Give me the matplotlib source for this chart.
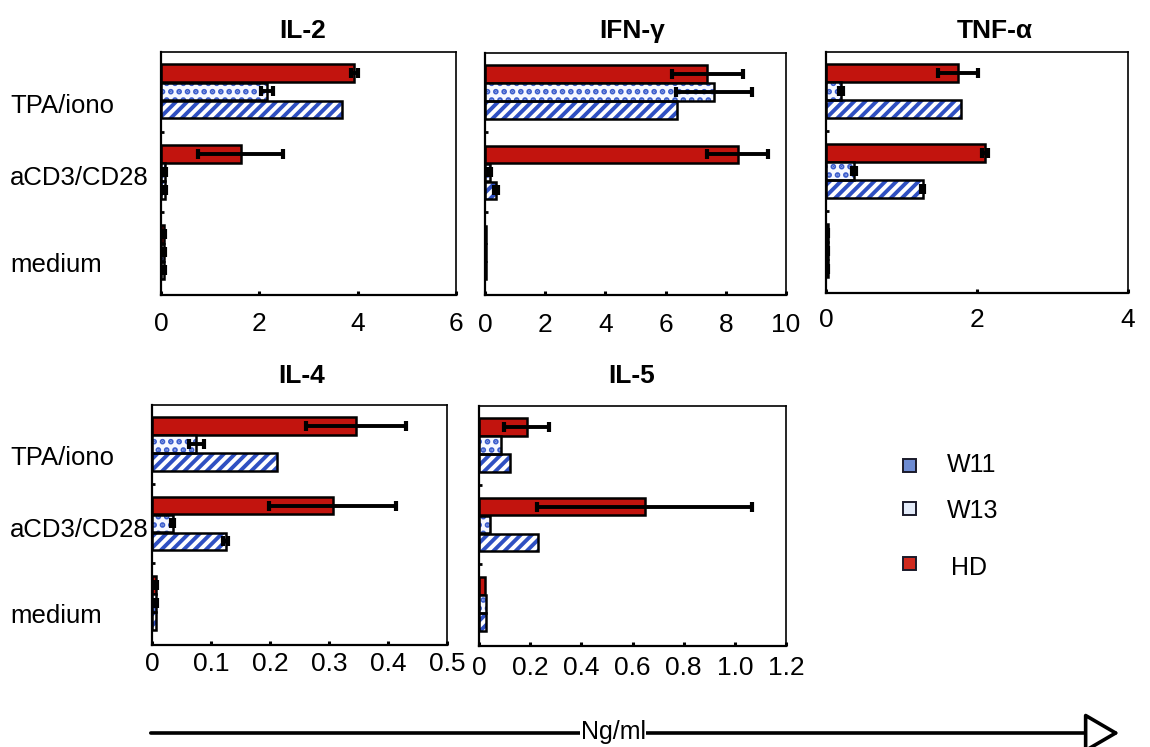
import matplotlib
matplotlib.use("Agg")
import matplotlib.pyplot as plt
from matplotlib.patches import Rectangle, FancyArrowPatch
from matplotlib.transforms import blended_transform_factory
import numpy as np

plt.rcParams['font.family'] = ['Liberation Sans', 'DejaVu Sans']
plt.rcParams['hatch.linewidth'] = 2.8

# ---------------- data ----------------
conditions = ["TPA/iono", "aCD3/CD28", "medium"]   # top -> bottom
series = ["HD", "W13", "W11"]                       # top -> bottom within group

cytokines = ["IL-2", "IFN-γ", "TNF-α", "IL-4", "IL-5"]

# values per condition [TPA/iono, aCD3/CD28, medium]
il2_hd = [3.93, 1.62, 0.07]
il2_w13 = [2.16, 0.08, 0.07]
il2_w11 = [3.68, 0.08, 0.07]
il2_hd_err = [0.07, 0.86, 0.02]
il2_w13_err = [0.12, 0.02, 0.02]
il2_w11_err = [0.0, 0.02, 0.02]

ifn_hd = [7.39, 8.39, 0.03]
ifn_w13 = [7.61, 0.15, 0.03]
ifn_w11 = [6.39, 0.37, 0.03]
ifn_hd_err = [1.17, 1.0, 0.0]
ifn_w13_err = [1.26, 0.05, 0.0]
ifn_w11_err = [0.0, 0.07, 0.0]

tnf_hd = [1.75, 2.10, 0.02]
tnf_w13 = [0.20, 0.37, 0.02]
tnf_w11 = [1.79, 1.28, 0.02]
tnf_hd_err = [0.26, 0.04, 0.01]
tnf_w13_err = [0.03, 0.03, 0.01]
tnf_w11_err = [0.0, 0.02, 0.01]

il4_hd = [0.346, 0.306, 0.006]
il4_w13 = [0.075, 0.035, 0.006]
il4_w11 = [0.212, 0.125, 0.006]
il4_hd_err = [0.085, 0.108, 0.003]
il4_w13_err = [0.013, 0.002, 0.003]
il4_w11_err = [0.0, 0.004, 0.0]

il5_hd = [0.186, 0.647, 0.024]
il5_w13 = [0.085, 0.042, 0.029]
il5_w11 = [0.12, 0.229, 0.029]
il5_hd_err = [0.087, 0.42, 0.0]
il5_w13_err = [0.0, 0.0, 0.0]
il5_w11_err = [0.0, 0.0, 0.0]

xlims = [6, 10, 4, 0.5, 1.2]
xticks = [[0, 2, 4, 6], [0, 2, 4, 6, 8, 10], [0, 2, 4],
          [0, 0.1, 0.2, 0.3, 0.4, 0.5], [0, 0.2, 0.4, 0.6, 0.8, 1.0, 1.2]]
xticklabels = [["0", "2", "4", "6"], ["0", "2", "4", "6", "8", "10"], ["0", "2", "4"],
               ["0", "0.1", "0.2", "0.3", "0.4", "0.5"],
               ["0", "0.2", "0.4", "0.6", "0.8", "1.0", "1.2"]]
axis_label = "Ng/ml"

panel_data = [
    (il2_hd, il2_w13, il2_w11, il2_hd_err, il2_w13_err, il2_w11_err),
    (ifn_hd, ifn_w13, ifn_w11, ifn_hd_err, ifn_w13_err, ifn_w11_err),
    (tnf_hd, tnf_w13, tnf_w11, tnf_hd_err, tnf_w13_err, tnf_w11_err),
    (il4_hd, il4_w13, il4_w11, il4_hd_err, il4_w13_err, il4_w11_err),
    (il5_hd, il5_w13, il5_w11, il5_hd_err, il5_w13_err, il5_w11_err),
]

# ---------------- style / layout ----------------
W, H = 1150, 747
fig = plt.figure(figsize=(W / 100, H / 100), dpi=100)

# axes rectangles in pixels: (x0, x1, ytop, ybottom)
rects_px = [(161, 456, 52, 295), (485, 786, 53, 295), (826, 1128, 52, 293),
            (152, 447, 405, 645), (479, 786, 406, 646)]
title_px = [(303, 31), (632, 31), (995, 31), (302, 376), (632, 376)]
tick_pads = [12, 13, 10.5, 5, 7.5]

RED = '#c2140e'
BLUE = '#2f50c2'
DOTBLUE = '#3a5ccc'

group_pos = np.array([2, 1, 0])
off = 0.225
bh = 0.22
label_offsets = [-0.18, -0.08, -0.16]
tick_font = ['Liberation Sans Narrow', 'Liberation Sans', 'DejaVu Sans']

for i, (x0, x1, yt, yb) in enumerate(rects_px):
    ax = fig.add_axes([x0 / W, 1 - yb / H, (x1 - x0) / W, (yb - yt) / H])
    hd, w13, w11, hde, w13e, w11e = panel_data[i]
    y_hd = group_pos + off
    y_w13 = group_pos
    y_w11 = group_pos - off

    # HD: solid red
    ax.barh(y_hd, hd, height=bh, color=RED, edgecolor='black', linewidth=1.8, zorder=2)
    # W13: white with blue dots
    ax.barh(y_w13, w13, height=bh, color='#f6f8ff', edgecolor=DOTBLUE, hatch='..',
            linewidth=0, zorder=2)
    ax.barh(y_w13, w13, height=bh, color='none', edgecolor='black', linewidth=1.8, zorder=3)
    # W11: white with blue diagonal stripes
    ax.barh(y_w11, w11, height=bh, color='white', edgecolor=BLUE, hatch='///',
            linewidth=0, zorder=2)
    ax.barh(y_w11, w11, height=bh, color='none', edgecolor='black', linewidth=1.8, zorder=3)

    for vals, errs, yy in ((hd, hde, y_hd), (w13, w13e, y_w13), (w11, w11e, y_w11)):
        vals = np.array(vals); errs = np.array(errs)
        m = errs > 0
        if m.any():
            ax.errorbar(vals[m], yy[m], xerr=errs[m], fmt='none', ecolor='black',
                        elinewidth=2.8, capsize=3.5, capthick=3, zorder=4)

    ax.set_xlim(0, xlims[i])
    ax.set_ylim(-0.53, 2.49)
    ax.set_xticks(xticks[i])
    ax.set_xticklabels(xticklabels[i], fontsize=19, family=tick_font)
    ax.tick_params(axis='x', direction='in', length=3, width=2.2, pad=tick_pads[i])
    ax.set_yticks([0.5, 1.5])
    ax.set_yticklabels([])
    ax.tick_params(axis='y', direction='in', length=2, width=2)
    for sp in ax.spines.values():
        sp.set_linewidth(1.2)
    ax.spines['left'].set_linewidth(1.6)
    ax.spines['bottom'].set_linewidth(1.6)

    tx, ty = title_px[i]
    fig.text(tx / W, 1 - ty / H, cytokines[i], ha='center', va='center',
             fontsize=19, fontweight='bold')

    if i in (0, 3):
        tr = blended_transform_factory(fig.transFigure, ax.transData)
        for g, name in enumerate(conditions):
            ax.text(10 / W, group_pos[g] + label_offsets[g], name, transform=tr,
                    ha='left', va='center', fontsize=18.5)

# ---------------- legend ----------------
leg_items = [("W11", '#6d8bd2', 465, 465), ("W13", '#e3ebf9', 508, 511), ("HD", '#d02a1f', 563, 568)]
for name, col, ysq, ytx in leg_items:
    s = 13
    fig.patches.append(Rectangle(((909 - s / 2) / W, 1 - (ysq + s / 2) / H), s / W, s / H,
                                 transform=fig.transFigure, facecolor=col,
                                 edgecolor='#1a1a2a', linewidth=1.4))
    fig.text((947 if name != "HD" else 951) / W, 1 - ytx / H, name, ha='left', va='center',
             fontsize=18)

# ---------------- bottom arrow ----------------
arr = FancyArrowPatch((148 / W, 1 - 733 / H), (1122 / W, 1 - 733 / H),
                      transform=fig.transFigure,
                      arrowstyle='-|>,head_length=1.2,head_width=0.7',
                      mutation_scale=18, linewidth=2.6, facecolor='white',
                      edgecolor='black')
fig.patches.append(arr)
fig.text(613 / W, 1 - 732 / H, axis_label, ha='center', va='center', fontsize=18,
         family=tick_font,
         bbox=dict(facecolor='white', edgecolor='none', pad=0.5))

fig.savefig("out.png", dpi=100)
